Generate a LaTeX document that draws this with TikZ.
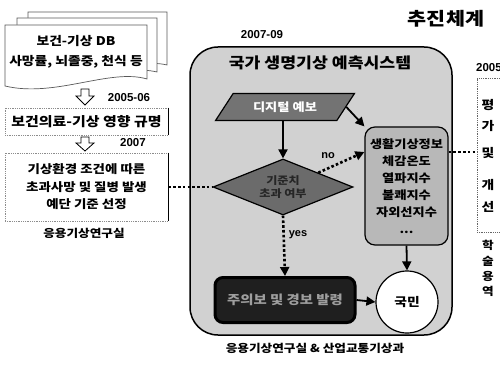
\documentclass[tikz,border=0pt]{standalone}
\usepackage{fontspec}
\setmainfont{Noto Sans CJK KR}[FakeStretch=1.15]
\newfontfamily\latf{Liberation Sans}
\usetikzlibrary{shapes.geometric,arrows.meta}
\newcommand\kf[2]{\fontsize{#1}{#2}\selectfont\bfseries}
\begin{document}
\begin{tikzpicture}[x=1pt,y=-1pt,
 every node/.style={inner sep=0pt},
 arr/.style={line width=1.8pt,-{Triangle[length=9pt,width=9pt]}},
 dotl/.style={line width=2.6pt,dash pattern=on 2.6pt off 2.2pt},
 dotarr/.style={dotl,-{Triangle[length=9pt,width=9pt]}},
 doc/.style={draw=black!65,line width=0.7pt,fill=white},
 lbox/.style={draw=black!45,densely dotted,line width=0.8pt,fill=white},
 yr/.style={font=\latf\bfseries\fontsize{11.5}{12}\selectfont},
 hol/.style={draw=black,line width=0.8pt,fill=white},
 vch/.style={font=\kf{12}{13}}]
\useasboundingbox (0,0) rectangle (500,366);
\clip (0,0) rectangle (500,366);
\fill[white] (0,0) rectangle (500,366);

% title
\node[font=\kf{18}{20}] (ttl) at (446,19) {추진체계};

% stacked documents
\draw[doc] (28,12) -- (167,12) -- (167,65) .. controls (140,58) and (70,76) .. (28,66) -- cycle;
\draw[doc] (17,18) -- (157,18) -- (157,72) .. controls (125,64) and (60,84) .. (17,74) -- cycle;
\draw[doc] (5,25) -- (147,25) -- (147,79) .. controls (110,68) and (55,98) .. (5,86) -- cycle;
\node[font=\kf{12}{20}, align=center] (db) at (76,52) {보건-기상 DB\\사망률, 뇌졸중, 천식 등};

% hollow arrow 1
\draw[hol] (81,89) -- (89,89) -- (89,96) -- (94,96) -- (85,105) -- (76,96) -- (81,96) -- cycle;
\node[yr] (y1) at (129,98) {2005-06};

% box 2
\node[lbox, minimum width=163, minimum height=27, font=\kf{13}{14}] (b2) at (86.5,121.5) {보건의료-기상 영향 규명};
\draw[line width=0.9pt] (b2.north east) -- (b2.south east);

% hollow arrow 2
\draw[hol] (81,137) -- (89,137) -- (89,143) -- (94,143) -- (85,151) -- (76,143) -- (81,143) -- cycle;
\node[yr] (y2) at (133,143) {2007};

% box 3
\node[lbox, minimum width=163, minimum height=68, align=center, font=\kf{11.7}{17.5}] (b3) at (86.5,187) {기상환경 조건에 따른\\초과사망 및 질병 발생\\예단 기준 선정};
\draw[line width=0.9pt] (b3.north east) -- (b3.south east);
\node[font=\kf{11}{12}] (lab1) at (84,233) {응용기상연구실};

% system box
\node[draw, line width=1.5pt, rounded corners=28pt, fill=black!18, minimum width=262, minimum height=288] (sys) at (321,191) {};
\node[yr] (y3) at (262,35) {2007-09};
\node[font=\kf{15}{16}] (sysT) at (320,63) {국가 생명기상 예측시스템};

\node[trapezium, trapezium left angle=45, trapezium right angle=135, trapezium stretches=true, minimum width=140, minimum height=27, draw, line width=1.2pt, fill=black!55, text=white, font=\kf{11.5}{12}] (pg) at (285,107) {디지털 예보};

\node[diamond, aspect=2.5, minimum width=140, minimum height=56, draw, line width=1.2pt, fill=black!58, align=center, font=\kf{10.5}{13}, text=black!85] (dia) at (283,187) {기준치\\초과 여부};

\node[draw, line width=1.2pt, rounded corners=10pt, fill=black!28, minimum width=83, minimum height=118, align=center, font=\kf{11.5}{17}] (info) at (406.5,186) {생활기상정보\\체감온도\\열파지수\\불쾌지수\\자외선지수\\...};

\node[draw=black, line width=3pt, fill=black!88, rounded corners=8pt, minimum width=140, minimum height=45, text=black!38, font=\kf{12.5}{13}] (warn) at (285,300) {주의보 및 경보 발령};

\node[draw, circle, line width=1.2pt, fill=white, minimum size=62, font=\kf{12}{13}] (pub) at (407,302) {국민};

\node[font=\kf{11}{12}] (lab2) at (315,348) {응용기상연구실 \& 산업교통기상과};

% right partial box
\node[draw=black!60, densely dotted, line width=0.8pt, minimum width=46, minimum height=154] (rb) at (500,155) {};
\node[yr, anchor=west] (y4) at (476,68) {2005-09};
\node[vch] (v1) at (488,105) {평};
\node[vch] (v2) at (488,126) {가};
\node[vch] (v3) at (488,153) {및};
\node[vch] (v4) at (488,185) {개};
\node[vch] (v5) at (488,207) {선};
\node[font=\kf{11}{12}] (w1) at (488,245) {학};
\node[font=\kf{11}{12}] (w2) at (488,261) {술};
\node[font=\kf{11}{12}] (w3) at (488,276) {용};
\node[font=\kf{11}{12}] (w4) at (488,291) {역};

% connectors
\draw[arr] (dia.north |- pg.south) -- (dia.north);
\draw[arr] (pg.east) -- (info.north west);
\draw[dotarr] (dia.north east) -- ([yshift=34pt]info.west);
\node[font=\latf\bfseries\fontsize{11}{12}\selectfont] (no) at (328,156) {no};
\draw[dotl] (b3.east) -- (dia.west);
\draw[dotarr] (dia.south) -- (warn.north);
\node[font=\latf\bfseries\fontsize{11}{12}\selectfont] (yes) at (298,235) {yes};
\draw[arr] (info.south) -- (pub.north);
\draw[arr] (warn.east) -- (pub.west);
\draw[dotl] ([yshift=34pt]info.east) -- ([yshift=34pt]info.east -| rb.west);
\end{tikzpicture}
\end{document}
